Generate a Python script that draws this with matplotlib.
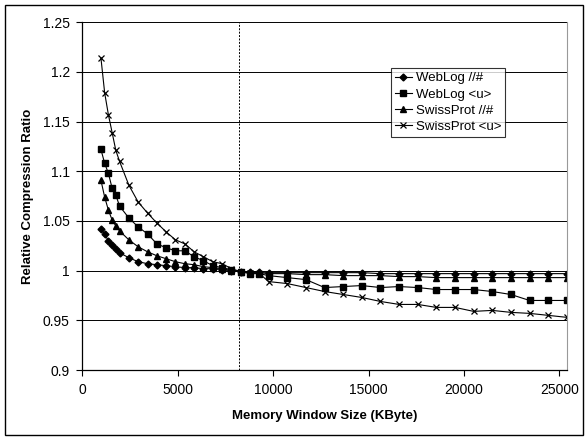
import matplotlib
matplotlib.use("Agg")
import matplotlib.pyplot as plt
from matplotlib.patches import Rectangle

plt.rcParams['font.family'] = ['Liberation Sans', 'DejaVu Sans']

# memory window sizes (KByte)
window_kb = [977, 1172, 1367, 1563, 1758, 1953, 2441, 2930, 3418, 3906, 4395,
             4883, 5371, 5859, 6348, 6836, 7324, 7813, 8301, 8789, 9277, 9766,
             10742, 11719, 12695, 13672, 14648, 15625, 16602, 17578, 18555,
             19531, 20508, 21484, 22461, 23438, 24414, 25391]

weblog_path = [1.042, 1.037, 1.030, 1.026, 1.022, 1.018, 1.013, 1.009, 1.007,
               1.006, 1.005, 1.004, 1.003, 1.003, 1.002, 1.002, 1.001, 1.000,
               0.999, 0.999, 0.999, 0.998, 0.998, 0.998, 0.998, 0.998, 0.998,
               0.997, 0.997, 0.997, 0.997, 0.997, 0.997, 0.997, 0.997, 0.997,
               0.997, 0.997]
weblog_u = [1.122, 1.108, 1.098, 1.083, 1.076, 1.065, 1.053, 1.044, 1.037,
            1.027, 1.023, 1.020, 1.020, 1.014, 1.010, 1.005, 1.003, 1.001,
            0.999, 0.997, 0.997, 0.995, 0.993, 0.991, 0.983, 0.984, 0.985,
            0.983, 0.984, 0.983, 0.981, 0.981, 0.981, 0.979, 0.976, 0.970,
            0.970, 0.970]
swiss_path = [1.091, 1.074, 1.061, 1.051, 1.045, 1.040, 1.031, 1.024, 1.019,
              1.015, 1.012, 1.009, 1.007, 1.006, 1.004, 1.003, 1.002, 1.000,
              0.999, 0.998, 0.998, 0.997, 0.997, 0.996, 0.996, 0.995, 0.995,
              0.995, 0.994, 0.994, 0.993, 0.993, 0.993, 0.993, 0.993, 0.993,
              0.993, 0.993]
swiss_u = [1.214, 1.179, 1.157, 1.139, 1.121, 1.110, 1.086, 1.069, 1.058,
           1.048, 1.039, 1.031, 1.027, 1.019, 1.014, 1.009, 1.007, 1.002,
           0.999, 0.998, 0.997, 0.989, 0.987, 0.983, 0.979, 0.976, 0.973,
           0.969, 0.966, 0.966, 0.963, 0.963, 0.959, 0.960, 0.958, 0.957,
           0.955, 0.953]

fig = plt.figure(figsize=(5.88, 4.40), dpi=100)
ax = fig.add_axes([82.3 / 588, 1 - 370 / 440, (567 - 82.3) / 588, (370 - 22.3) / 440])

# outer chart border
fig.patches.append(Rectangle((5 / 588, 5 / 440), 578 / 588, 430 / 440,
                             transform=fig.transFigure, fill=False,
                             edgecolor='black', linewidth=1.0))

ax.plot(window_kb, weblog_path, color='black', lw=0.8, marker='D', ms=3.5, label='WebLog //#')
ax.plot(window_kb, weblog_u, color='black', lw=0.8, marker='s', ms=5, label='WebLog <u>')
ax.plot(window_kb, swiss_path, color='black', lw=0.8, marker='^', ms=5, label='SwissProt //#')
ax.plot(window_kb, swiss_u, color='black', lw=0.8, marker='x', ms=5, mew=0.9, label='SwissProt <u>')

ax.axvline(8192, color='black', lw=0.7, ls=(0, (2, 1.5)))

ax.set_xlim(0, 25400)
ax.set_ylim(0.9, 1.25)
ax.set_xticks([0, 5000, 10000, 15000, 20000, 25000])
ax.set_yticks([0.9, 0.95, 1.0, 1.05, 1.1, 1.15, 1.2, 1.25])
ax.set_yticklabels(['0.9', '0.95', '1', '1.05', '1.1', '1.15', '1.2', '1.25'])
ax.yaxis.grid(True, color='black', lw=0.7)
ax.set_axisbelow(True)
ax.tick_params(labelsize=10, direction='out', length=4, width=0.8, pad=5)

ax.spines['top'].set_visible(False)
ax.spines['right'].set_color('#999999')
ax.spines['left'].set_linewidth(0.9)
ax.spines['bottom'].set_linewidth(0.9)

ax.set_xlabel('Memory Window Size (KByte)', fontsize=9.5, fontweight='bold', labelpad=10)
ax.set_ylabel('Relative Compression Ratio', fontsize=9.5, fontweight='bold', labelpad=6)

leg = ax.legend(loc='upper left', bbox_to_anchor=((390.7 - 82.3) / 484.7, (370 - 68.3) / 347.7),
                fontsize=9.5, frameon=True, fancybox=False, handlelength=1.3,
                handletextpad=0.3, borderpad=0.3, labelspacing=0.3, borderaxespad=0)
leg.get_frame().set_edgecolor('black')
leg.get_frame().set_linewidth(0.8)

fig.savefig('out.png', dpi=100)
